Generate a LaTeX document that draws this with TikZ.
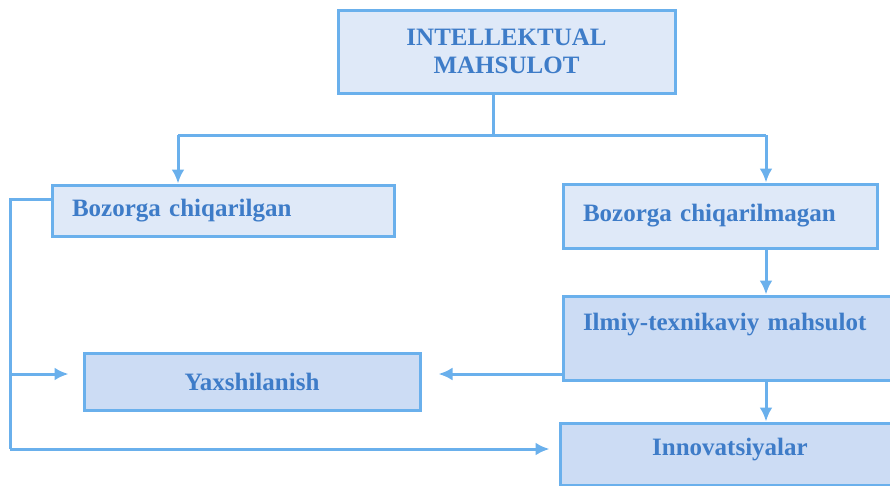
\documentclass[tikz,border=0pt]{standalone}
\usepackage{fontspec}
\setmainfont{Liberation Serif}
\usepackage{xcolor}
\usepackage{tikz}
\usetikzlibrary{positioning,calc,arrows.meta}

\definecolor{lineblue}{HTML}{6AB0EC}
\definecolor{textblue}{HTML}{3E7CC8}
\definecolor{paleblue}{HTML}{DFE9F8}
\definecolor{midblue}{HTML}{CCDCF4}

\tikzset{
    box/.style={draw=lineblue, line width=3pt, fill=paleblue, text=textblue,
        font=\fontsize{25}{28}\selectfont\bfseries, inner sep=0pt},
    darkbox/.style={box, fill=midblue},
    link/.style={draw=lineblue, line width=3pt},
    arr/.style={link, -{Latex[length=14pt,width=13pt]}}
}

\begin{document}
\begin{tikzpicture}[x=1pt,y=-1pt]
    \useasboundingbox (0,0) rectangle (890,485);
    \clip (0,0) rectangle (890,485);

    % Boxes
    \node[box, minimum width=337pt, minimum height=83pt, align=center] (top) at (506.5,51.5) {INTELLEKTUAL\\MAHSULOT};
    \node[box, minimum width=342pt, minimum height=51pt, text width=302pt, align=left] (bzc) at (223,210.5) {Bozorga chiqarilgan};
    \node[box, minimum width=314pt, minimum height=64pt, text width=274pt, align=left] (bzm) at (720,216) {Bozorga chiqarilmagan};
    \node[darkbox, minimum width=340pt, minimum height=84pt, text width=300pt, align=left, text height=16pt, text depth=32pt] (ilm) at (733,338) {Ilmiy-texnikaviy mahsulot};
    \node[darkbox, minimum width=336pt, minimum height=57pt] (yax) at (252,381.5) {Yaxshilanish};
    \node[darkbox, minimum width=340pt, minimum height=62pt, text height=16pt, text depth=14pt] (inn) at (730,454) {Innovatsiyalar};

    % Connectors
    \coordinate (split) at (493,135);
    \coordinate (lcol) at (178,135);
    \coordinate (rcol) at (766,135);
    \coordinate (edge) at (10,199);
    \draw[link] (split |- top.south) -- (split);
    \draw[link] (lcol) -- (rcol);
    \draw[arr] (lcol) -- (lcol |- bzc.north);
    \draw[arr] (rcol) -- (rcol |- bzm.north);
    \draw[arr] (rcol |- bzm.south) -- (rcol |- ilm.north);
    \draw[arr] (rcol |- ilm.south) -- (rcol |- inn.north);
    \draw[arr, shorten >=17pt] (ilm.west |- 0,374) -- (yax.east |- 0,374);
    \draw[link] (bzc.west |- edge) -- (edge) -- (edge |- 0,449) coordinate (corner);
    \draw[arr, shorten >=9pt] (corner) -- (inn.west |- corner);
    \draw[arr, shorten >=14pt] (edge |- 0,374) -- (yax.west |- 0,374);
\end{tikzpicture}
\end{document}
